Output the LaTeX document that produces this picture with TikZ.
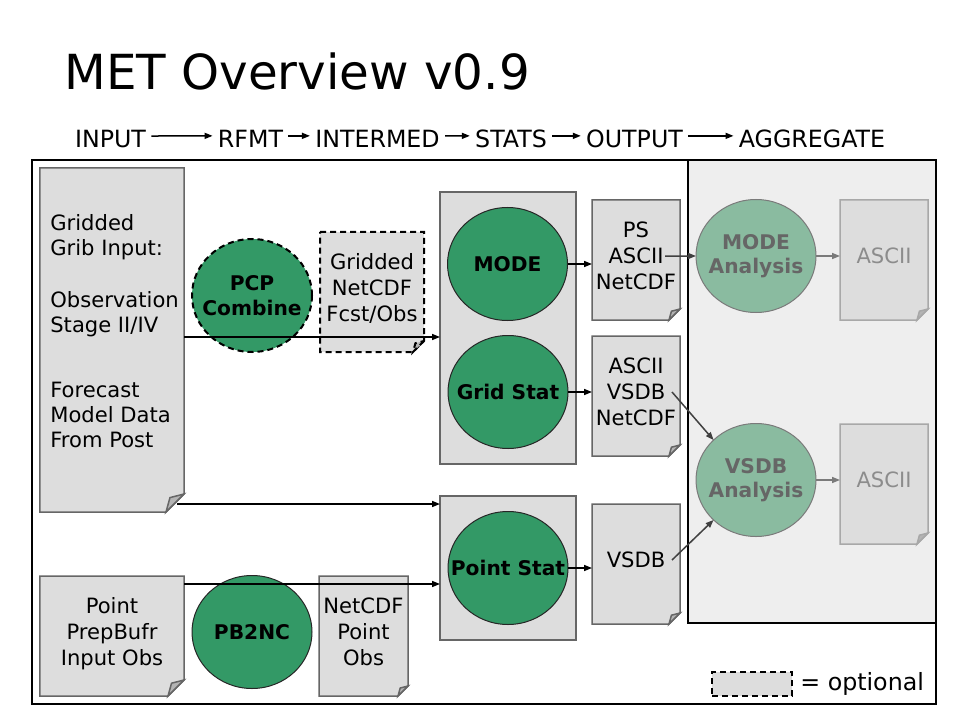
\documentclass[tikz,border=0pt]{standalone}
\usepackage{fontspec}
\setmainfont{DejaVu Sans}
\usepackage{tikz}
\usetikzlibrary{arrows.meta,shapes.geometric,positioning}

\definecolor{docgray}{HTML}{DDDDDD}
\definecolor{foldgray}{HTML}{B4B4B4}
\definecolor{edgegray}{HTML}{666666}
\definecolor{procgreen}{HTML}{339966}
\definecolor{angreen}{HTML}{8ABBA0}
\definecolor{angray}{HTML}{7A7A7A}
\definecolor{antext}{HTML}{666666}
\definecolor{aggbg}{HTML}{EEEEEE}
\definecolor{ascline}{HTML}{A8A8A8}
\definecolor{asctext}{HTML}{8C8C8C}

\tikzset{
  doc/.style 2 args={draw=none, fill=docgray, minimum width=#1, minimum height=#2,
    inner sep=0, outer sep=0, align=center, text depth=1.8mm,
    font=\fontsize{12}{14.7}\selectfont},
  docline/.style={draw=edgegray, line width=0.3mm},
  proc/.style={ellipse, draw=black!85, line width=0.2mm, fill=procgreen,
    minimum width=24mm, minimum height=22.6mm, inner sep=0, outer sep=0, align=center,
    font=\bfseries\fontsize{11.5}{14}\selectfont},
  anproc/.style={proc, draw=angray, fill=angreen, text=antext},
  statbox/.style 2 args={rectangle, draw=edgegray, line width=0.3mm, fill=docgray,
    minimum width=#1, minimum height=#2, inner sep=0, outer sep=0},
  arr/.style={line width=0.3mm, -{Triangle[length=1.6mm,width=1.2mm]}},
  hdr/.style={font=\fontsize{13.5}{16}\selectfont, anchor=base, inner sep=1mm},
  opt/.style={dash pattern=on 1.2mm off 0.8mm, line width=0.4mm},
}

% text of zero width, so the ellipses keep their size
\newcommand{\zw}[1]{\makebox[0pt]{#1}}
% outline of a page with a folded corner: node, fold, background, line
\newcommand{\docedge}[4]{%
  \fill[#3] (#1.south east) -- ([yshift=#2]#1.south east) -- ([xshift=-#2]#1.south east) -- cycle;
  \draw[#4] (#1.north west) -- (#1.north east) -- ([yshift=#2]#1.south east)
    -- ([xshift=-#2]#1.south east) -- (#1.south west) -- cycle;
  \draw[#4, fill=foldgray] ([yshift=#2]#1.south east) -- ([xshift=-#2]#1.south east)
    -- ([xshift=-0.78*#2, yshift=0.8*#2]#1.south east) -- cycle;}

\begin{document}
\begin{tikzpicture}[x=0.2mm, y=-0.2mm]
\useasboundingbox (0,0) rectangle (960,720);

% title and stages
\node[anchor=base west, inner sep=0, font=\fontsize{27.5}{32}\selectfont] (title) at (64,90) {MET Overview v0.9};
\node[hdr] (hin) at (110.5,148) {INPUT};
\node[hdr] (hrfmt) at (250.5,148) {RFMT};
\node[hdr] (hint) at (377.5,148) {INTERMED};
\node[hdr] (hstats) at (511,148) {STATS};
\node[hdr] (hout) at (634.5,148) {OUTPUT};
\node[hdr] (hagg) at (812,148) {AGGREGATE};
\foreach \a/\b in {hin/hrfmt, hrfmt/hint, hint/hstats, hstats/hout, hout/hagg}
  \draw[arr] ([yshift=0.7mm]\a.east) -- ([yshift=0.7mm]\b.west);

% frames
\draw[line width=0.4mm] (32,160) rectangle (936,704);
\draw[line width=0.4mm, fill=aggbg] (688,160) rectangle (936,623);

% input
\node[doc={28.8mm}{68.8mm}] (gridin) at (112,340) {};
\docedge{gridin}{3.6mm}{white}{docline}
\node[anchor=north west, inner sep=0, align=left, font=\fontsize{12}{14.2}\selectfont] (gridtxt) at (50,214)
  {Gridded\\Grib Input:\\[5.4mm]Observation\\Stage II/IV\\[8mm]Forecast\\Model Data\\From Post};
\node[doc={28.8mm}{24mm}] (pointin) at (112,636) {Point\\PrepBufr\\Input Obs};
\docedge{pointin}{3.2mm}{white}{docline}

% reformat and intermediate
\node[proc, opt, draw=black] (pcp) at (252,295.5) {\zw{PCP}\\\zw{Combine}};
\node[proc] (pb2nc) at (252,632) {\zw{PB2NC}};
\node[doc={20.8mm}{24mm}] (gridnc) at (372,292) {Gridded\\NetCDF\\Fcst/Obs};
\docedge{gridnc}{2.2mm}{white}{opt, draw=black}
\node[doc={17.8mm}{24mm}] (pointnc) at (363.5,636) {NetCDF\\Point\\Obs};
\docedge{pointnc}{2mm}{white}{docline}

% statistics
\node[statbox={27.2mm}{54.4mm}] (statsA) at (508,328) {};
\node[statbox={27.2mm}{28.8mm}] (statsB) at (508,568) {};
\node[proc] (mode) at (507.5,264) {\zw{MODE}};
\node[proc] (gridst) at (508,392) {\zw{Grid Stat}};
\node[proc] (pointst) at (508,568) {\zw{Point Stat}};

% output
\node[doc={17.6mm}{24mm}] (modeout) at (636,260) {PS\\ASCII\\NetCDF};
\docedge{modeout}{2.2mm}{white}{docline}
\node[doc={17.6mm}{24mm}] (gridout) at (636,396) {ASCII\\VSDB\\NetCDF};
\docedge{gridout}{2.2mm}{white}{docline}
\node[doc={17.6mm}{24mm}] (pointout) at (636,564) {VSDB};
\docedge{pointout}{2.2mm}{white}{docline}

% aggregate
\node[anproc] (modean) at (756,256) {\zw{MODE}\\\zw{Analysis}};
\node[anproc] (vsdban) at (756,480) {\zw{VSDB}\\\zw{Analysis}};
\node[doc={17.6mm}{24mm}, text=asctext] (modeasc) at (884,260) {ASCII};
\docedge{modeasc}{2.2mm}{aggbg}{docline, draw=ascline}
\node[doc={17.6mm}{24mm}, text=asctext] (vsdbasc) at (884,484) {ASCII};
\docedge{vsdbasc}{2.2mm}{aggbg}{docline, draw=ascline}

% legend
\node[doc={16mm}{4.8mm}, opt, draw=black] (legbox) at (752,684) {};
\node[anchor=west, inner sep=0, font=\fontsize{13.5}{16}\selectfont] (legtxt) at ([xshift=1.6mm]legbox.east) {= optional};

% connectors
\draw[arr] ([yshift=0.6mm]gridin.east) -- ([yshift=0.6mm]gridin.east -| statsA.west);
\draw[arr] ([xshift=-1.4mm, yshift=1.6mm]gridin.south east) -- ([yshift=1.6mm]gridin.south east -| statsB.west);
\draw[arr] ([yshift=-1.6mm]pointin.north east) -- ([yshift=-1.6mm]pointin.north east -| statsB.west);
\draw[arr] (mode.east) -- (mode.east -| modeout.west);
\draw[arr] (gridst.east) -- (gridst.east -| gridout.west);
\draw[arr] (pointst.east) -- (pointst.east -| pointout.west);
\draw[arr, draw=black!75] ([xshift=5.8mm, yshift=0.8mm]modeout.center) -- (modean.west);
\draw[arr, draw=black!75] ([xshift=7.2mm, yshift=0.8mm]gridout.center) -- (vsdban.north west);
\draw[arr, draw=black!75] ([xshift=7.2mm, yshift=0.8mm]pointout.center) -- (vsdban.south west);
\draw[arr, draw=angray] (modean.east) -- (modean.east -| modeasc.west);
\draw[arr, draw=angray] (vsdban.east) -- (vsdban.east -| vsdbasc.west);
\end{tikzpicture}
\end{document}
